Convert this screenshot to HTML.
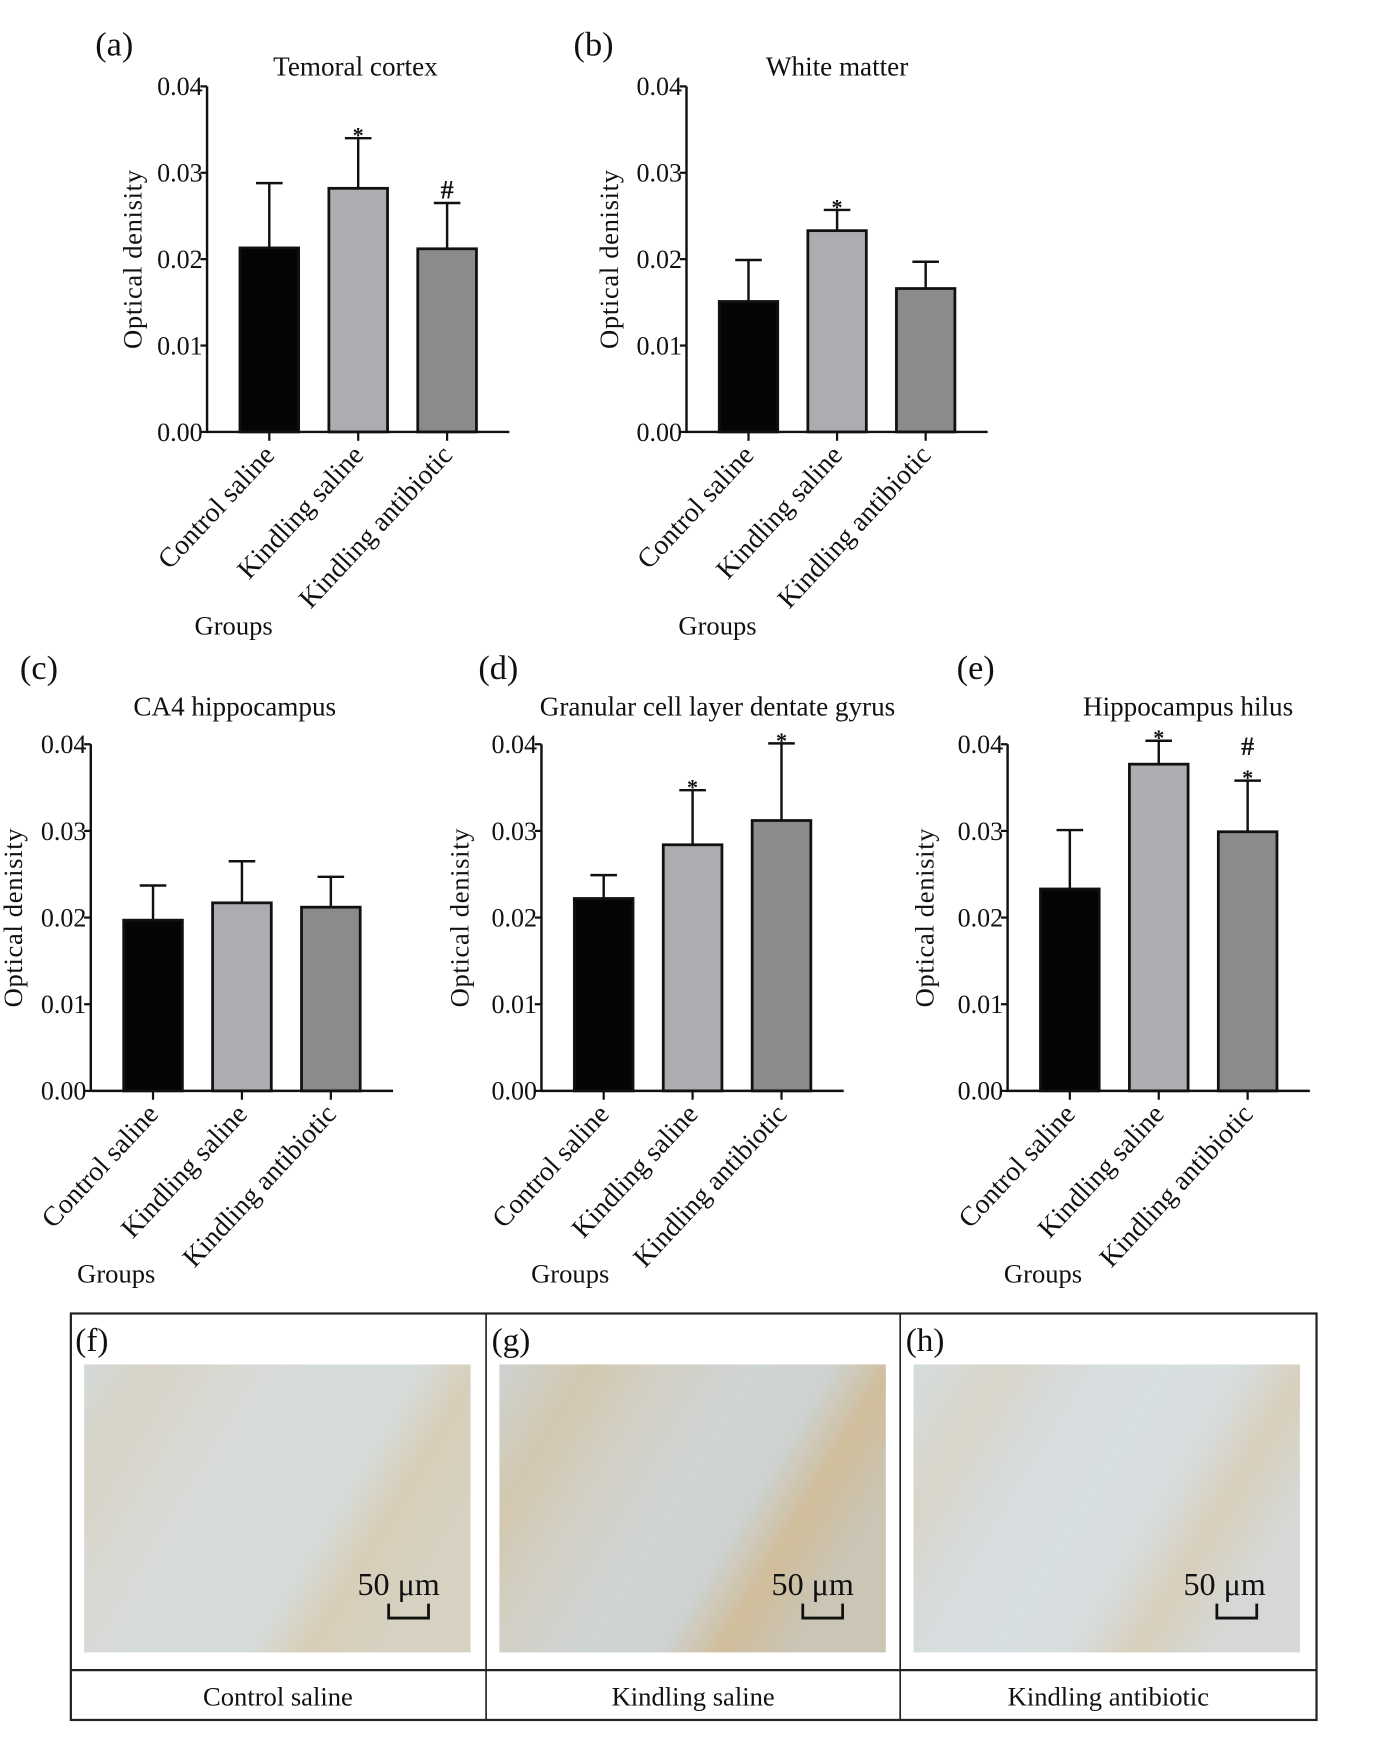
<!DOCTYPE html>
<html><head><meta charset="utf-8"><style>
html,body{margin:0;padding:0;background:#fff}
svg{display:block}
text{font-family:"Liberation Serif",serif;fill:#111}
</style></head><body>
<svg id="fig" width="1373" height="1741" viewBox="0 0 1240 1572" preserveAspectRatio="none" xmlns="http://www.w3.org/2000/svg">
<defs>
<linearGradient id="tis1" x1="0" y1="0" x2="1" y2="0.45">
<stop offset="0" stop-color="#d3d9d8"/><stop offset="0.15" stop-color="#d7d3c6"/><stop offset="0.3" stop-color="#d8d8d2"/><stop offset="0.5" stop-color="#d6dcdc"/><stop offset="0.72" stop-color="#d6dcdb"/><stop offset="0.85" stop-color="#d8ceb8"/><stop offset="1" stop-color="#d6d1c0"/></linearGradient>
<linearGradient id="tis2" x1="0" y1="0" x2="1" y2="0.45">
<stop offset="0" stop-color="#cdd2d2"/><stop offset="0.2" stop-color="#d3c8b0"/><stop offset="0.35" stop-color="#d2cfc4"/><stop offset="0.55" stop-color="#cfd4d4"/><stop offset="0.72" stop-color="#ced2d0"/><stop offset="0.85" stop-color="#d0bd9a"/><stop offset="1" stop-color="#cbc5b6"/></linearGradient>
<linearGradient id="tis3" x1="0" y1="0" x2="1" y2="0.45">
<stop offset="0" stop-color="#d5dcde"/><stop offset="0.2" stop-color="#d8d5c9"/><stop offset="0.35" stop-color="#d7dbdc"/><stop offset="0.55" stop-color="#d8dfe1"/><stop offset="0.72" stop-color="#d7dcdc"/><stop offset="0.85" stop-color="#d8cfbb"/><stop offset="1" stop-color="#d5d8d4"/></linearGradient>
</defs>
<g id="charts"></g>
<g>
<rect x="64" y="1186" width="1125" height="367" fill="none" stroke="#222" stroke-width="2"/>
<line x1="64" y1="1508" x2="1189" y2="1508" stroke="#222" stroke-width="2"/>
<line x1="439" y1="1186" x2="439" y2="1553" stroke="#222" stroke-width="1.5"/>
<line x1="813" y1="1186" x2="813" y2="1553" stroke="#222" stroke-width="1.5"/>
<text x="68" y="1220" font-size="30">(f)</text>
<text x="444" y="1220" font-size="30">(g)</text>
<text x="818" y="1220" font-size="30">(h)</text>
<rect x="76" y="1232" width="349" height="260" fill="url(#tis1)"/>
<rect x="451" y="1232" width="349" height="260" fill="url(#tis2)"/>
<rect x="825" y="1232" width="349" height="260" fill="url(#tis3)"/>
<g font-size="29">
<text x="360" y="1440" text-anchor="middle">50 μm</text>
<text x="734" y="1440" text-anchor="middle">50 μm</text>
<text x="1106" y="1440" text-anchor="middle">50 μm</text>
</g>
<g fill="none" stroke="#111" stroke-width="2.5">
<path d="M351 1448 V1461 H387 V1448"/>
<path d="M725 1448 V1461 H761 V1448"/>
<path d="M1099 1448 V1461 H1135 V1448"/>
</g>
<g font-size="24" text-anchor="middle">
<text x="251" y="1540">Control saline</text>
<text x="626" y="1540">Kindling saline</text>
<text x="1001" y="1540">Kindling antibiotic</text>
</g>
</g>
</svg>
<script>
const categories = ["Control saline", "Kindling saline", "Kindling antibiotic"];
const yTicks = [0, 0.01, 0.02, 0.03, 0.04];
const yTickLabels = ["0.00", "0.01", "0.02", "0.03", "0.04"];
const panelTitles = ["Temoral cortex", "White matter", "CA4 hippocampus", "Granular cell layer dentate gyrus", "Hippocampus hilus"];
const panelLetters = ["(a)", "(b)", "(c)", "(d)", "(e)"];
const meansA = [0.0213, 0.0282, 0.0212];
const errTopA = [0.0288, 0.0340, 0.0265];
const marksA = ["", "*", "#"];
const meansB = [0.0151, 0.0233, 0.0166];
const errTopB = [0.0199, 0.0257, 0.0197];
const marksB = ["", "*", ""];
const meansC = [0.0197, 0.0217, 0.0212];
const errTopC = [0.0237, 0.0265, 0.0247];
const marksC = ["", "", ""];
const meansD = [0.0222, 0.0284, 0.0312];
const errTopD = [0.0249, 0.0347, 0.0401];
const marksD = ["", "*", "*"];
const meansE = [0.0233, 0.0377, 0.0299];
const errTopE = [0.0301, 0.0404, 0.0358];
const marksE = ["", "*", "#*"];

const NS = "http://www.w3.org/2000/svg";
const root = document.getElementById("charts");
function mk(tag, attrs, parent, txt) {
  const e = document.createElementNS(NS, tag);
  for (const k in attrs) e.setAttribute(k, attrs[k]);
  if (txt !== undefined) e.textContent = txt;
  parent.appendChild(e);
  return e;
}
const fills = ["#050505", "#abadb0", "#898b8d"];
const layouts = [
  {ax:187, top:78, bot:390, end:460, titleX:321, letX:86, letY:50, ylX:128, grpX:211, grpY:573},
  {ax:620, top:78, bot:390, end:892, titleX:756, letX:518, letY:50, ylX:558, grpX:648, grpY:573},
  {ax:82, top:672, bot:985, end:355, titleX:212, letX:18, letY:613, ylX:20, grpX:105, grpY:1158},
  {ax:489, top:672, bot:985, end:762, titleX:648, letX:432, letY:613, ylX:423, grpX:515, grpY:1158},
  {ax:910, top:672, bot:985, end:1183, titleX:1073, letX:864, letY:613, ylX:843, grpX:942, grpY:1158}
];
const allMeans = [meansA, meansB, meansC, meansD, meansE];
const allErr = [errTopA, errTopB, errTopC, errTopD, errTopE];
const allMarks = [marksA, marksB, marksC, marksD, marksE];
const ids = ["a","b","c","d","e"];

layouts.forEach((L, p) => {
  const g = mk("g", {}, root);
  
  
  const y = v => L.bot - (v / 0.04) * (L.bot - L.top);
  const step = (L.end - L.ax) / 3.4;
  const cx = i => L.ax + step * (0.7 + i);
  const bw = step * 0.66;
  const letter = mk("text", {x:L.letX, y:L.letY, "font-size":31}, g, panelLetters[p]);
  
  
  const title = mk("text", {x:L.titleX, y:(p<2?68:646), "font-size":24.5, "text-anchor":"middle"}, g, panelTitles[p]);
  
  
  const yl = mk("text", {x:0, y:0, "font-size":24, "letter-spacing":"0.6", "text-anchor":"middle", transform:`translate(${L.ylX},${(L.top+L.bot)/2})`+" rotate(-90)"}, g, "Optical denisity");
  
  
  yTicks.forEach((t, k) => {
    const tk = mk("line", {x1:L.ax-6, x2:L.ax, y1:y(t), y2:y(t), stroke:"#111", "stroke-width":2}, g);
    
    
    const tl = mk("text", {x:L.ax-4, y:y(t)+8, "font-size":23.5, "text-anchor":"end"}, g, yTickLabels[k]);
    
    
  });
  allMeans[p].forEach((v, i) => {
    const x = cx(i);
    const e = allErr[p][i];
    const eb = mk("path", {d:`M${x} ${y(v)} V${y(e)} M${x-12} ${y(e)} H${x+12}`, stroke:"#111", "stroke-width":2.2, fill:"none"}, g);
    
    
    const b = mk("rect", {x:x-bw/2, y:y(v), width:bw, height:L.bot-y(v), fill:fills[i], stroke:"#111", "stroke-width":2.5}, g);
    
    
    const tk = mk("line", {x1:x, x2:x, y1:L.bot, y2:L.bot+8, stroke:"#111", "stroke-width":2}, g);
    
    
    const cl = mk("text", {x:0, y:0, "font-size":25, "text-anchor":"end", transform:`translate(${x+6},${L.bot+22}) rotate(-47)`}, g, categories[i]);
    
    
    const m = allMarks[p][i];
    if (m) {
      const chars = m.split("");
      chars.forEach((c, j) => {
        const off = (chars.length - 1 - j) * 19;
        const st = mk("text", {x:x, y:y(e) - 4 - off + (c==="*"?8:0), "font-size":c==="*"?20:24, "font-weight":"bold", "text-anchor":"middle"}, g, c);
        
        
      });
    }
  });
  const axes = mk("path", {d:`M${L.ax} ${L.top} V${L.bot} H${L.end}`, stroke:"#111", "stroke-width":2.2, fill:"none"}, g);
  
  
  const gr = mk("text", {x:L.grpX, y:L.grpY, "font-size":24, "text-anchor":"middle"}, g, "Groups");
  
  
});
</script>
</body></html>
